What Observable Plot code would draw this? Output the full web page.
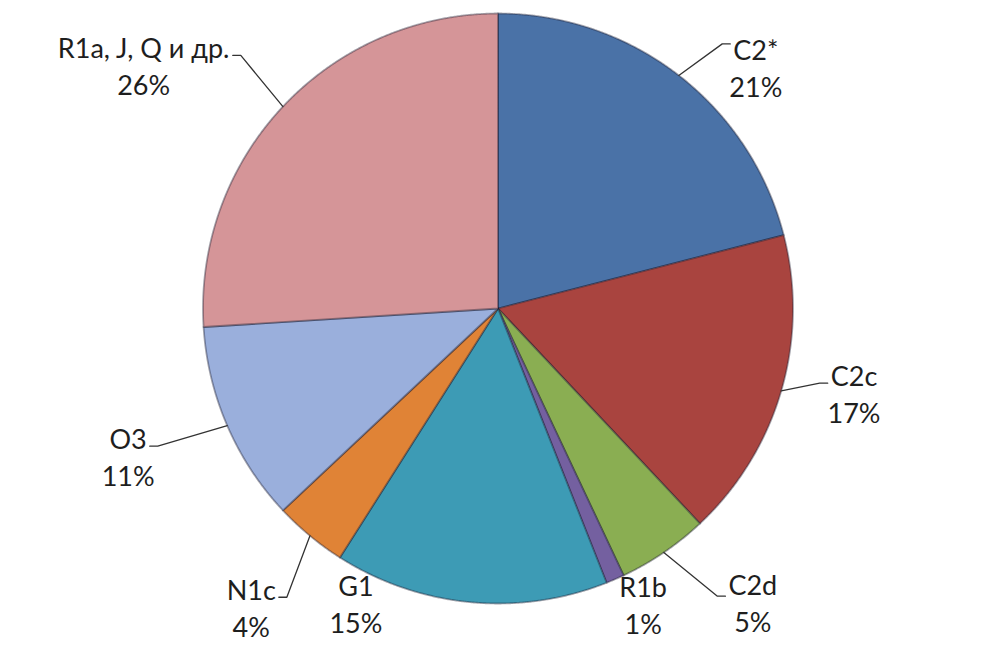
<!DOCTYPE html>
<html>
<head>
<meta charset="utf-8">
<script src="https://cdn.jsdelivr.net/npm/d3@7"></script>
<script src="https://cdn.jsdelivr.net/npm/@observablehq/plot@0.6"></script>
<style>
  html, body { margin: 0; padding: 0; background: #fff; }
  #chart { width: 1000px; height: 649px; }
</style>
</head>
<body>
<div id="chart"></div>
<script>
// ---- data ----
const names  = ["C2*", "C2c", "C2d", "R1b", "G1", "N1c", "O3", "R1a, J, Q и др."];
const shares = [21, 17, 5, 1, 15, 4, 11, 26];
const colors = ["#4a72a7", "#a9443f", "#8aae52", "#7460a0", "#3d9bb5", "#e08336", "#9aafdc", "#d59598"];

// ---- layout (not data) ----
const W = 1000, H = 649;
const cx = 497.5, cy = 308, R = 295;
// label placement in polar terms (degrees clockwise from 12 o'clock, radius in px)
const labelAngle  = [46.8, 103.3, 139.0, 153.8, 205.8, 219.6, 248.3, 304.5];
const labelRadius = [353.7, 365.8, 388.4, 328.7, 326.5, 387.1, 398.1, 430];
const hasLeader   = [true, true, true, false, false, true, true, true];
const leaderDy    = [-4, 9, 13, 0, 0, 9, 9, 9];
const fontSize = 27, lineGap = 37;
const fontFamily = 'Lato, "Open Sans", sans-serif';

const arcs = d3.pie().sort(null).value(d => d).startAngle(0).endAngle(2 * Math.PI)(shares);
const px = (a, r) => cx + r * Math.sin(a);
const py = (a, r) => cy - r * Math.cos(a);

// slice outlines
const slicePts = [];
arcs.forEach((a, i) => {
  slicePts.push({name: names[i], x: cx, y: cy});
  const n = Math.max(2, Math.ceil((a.endAngle - a.startAngle) / 0.004));
  for (let k = 0; k <= n; k++) {
    const t = a.startAngle + (a.endAngle - a.startAngle) * k / n;
    slicePts.push({name: names[i], x: px(t, R), y: py(t, R)});
  }
  slicePts.push({name: names[i], x: cx, y: cy});
});

// labels
const ctx = document.createElement("canvas").getContext("2d");
ctx.font = `${fontSize}px ${fontFamily}`;
const labels = arcs.map((a, i) => {
  const t = labelAngle[i] * Math.PI / 180;
  return {name: names[i], text: `${names[i]}\n${shares[i]}%`, x: px(t, labelRadius[i]), y: py(t, labelRadius[i])};
});

// leader lines: from pie edge at the slice's mid-angle to the side of the first label line
const leaderPts = [];
arcs.forEach((a, i) => {
  if (!hasLeader[i]) return;
  const mid = (a.startAngle + a.endAngle) / 2;
  const L = labels[i];
  const w = ctx.measureText(names[i]).width;
  const right = Math.sin(mid) > 0;
  const side = right ? -1 : 1;
  const yEnd = L.y - lineGap / 2 + leaderDy[i];
  const xEnd = L.x + side * (w / 2 + 3);
  const xElbow = xEnd + side * 8;
  leaderPts.push({name: names[i], x: px(mid, R), y: py(mid, R)});
  leaderPts.push({name: names[i], x: xElbow, y: yEnd});
  leaderPts.push({name: names[i], x: xEnd, y: yEnd});
});

const chart = Plot.plot({
  width: W,
  height: H,
  margin: 0,
  x: {domain: [0, W], range: [0, W], axis: null},
  y: {domain: [0, H], range: [0, H], axis: null},
  color: {domain: names, range: colors},
  style: {background: "#fff"},
  marks: [
    Plot.line(slicePts, {x: "x", y: "y", z: "name", fill: "name", stroke: "#1c1c30", strokeOpacity: 0.4, strokeWidth: 1.8, strokeLinejoin: "round", curve: "linear"}),
    Plot.line(leaderPts, {x: "x", y: "y", z: "name", stroke: "#333", strokeWidth: 1.3, curve: "linear"}),
    Plot.text(labels, {x: "x", y: "y", text: "text", fontSize, fontFamily, fill: "#1e1e1e", lineHeight: lineGap / fontSize, textAnchor: "middle", lineAnchor: "middle"})
  ]
});
document.getElementById("chart").appendChild(chart);
</script>
</body>
</html>
